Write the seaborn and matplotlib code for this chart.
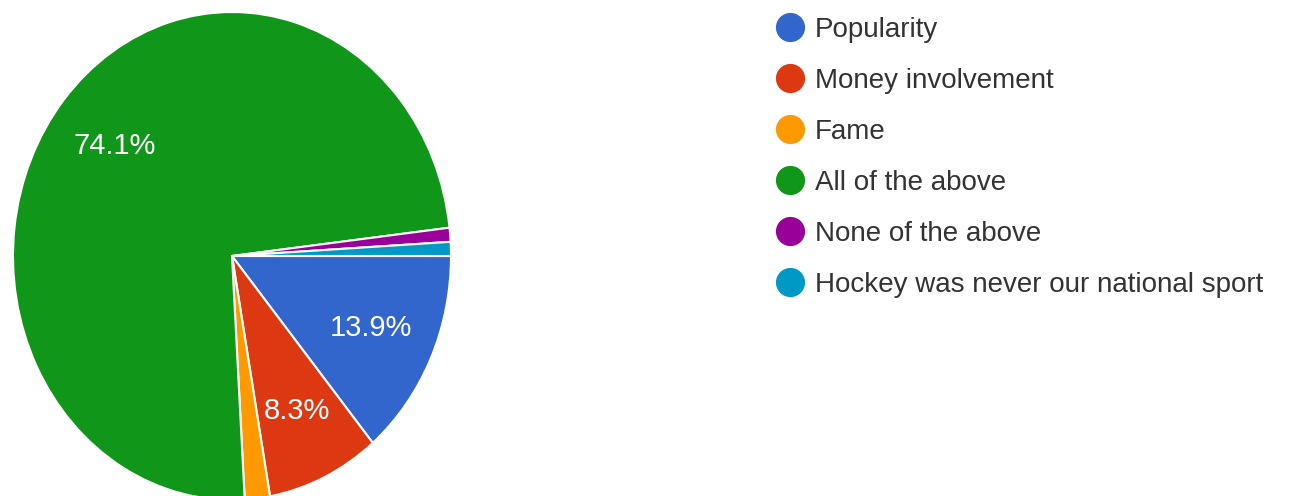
import matplotlib
matplotlib.use('Agg')
import matplotlib.pyplot as plt
from matplotlib.lines import Line2D
import seaborn as sns

# Survey answers (108 responses)
labels = ['Popularity', 'Money involvement', 'Fame', 'All of the above',
          'None of the above', 'Hockey was never our national sport']
counts = [15, 9, 2, 80, 1, 1]
colors = ['#3366CC', '#DC3912', '#FF9900', '#109618', '#990099', '#0099C6']

sns.set_theme(style='white')
plt.rcParams['font.family'] = ['Liberation Sans', 'DejaVu Sans']

W, H = 1315, 496
fig = plt.figure(figsize=(W / 100, H / 100), dpi=100)

# pie area in pixels (image is slightly stretched vertically)
left, right, top, bottom = 13, 451, 12, 500
ax = fig.add_axes([left / W, (H - bottom) / H, (right - left) / W, (bottom - top) / H])


def fmt(p):
    return f'{p:.1f}%' if p > 5 else ''


wedges, texts, autotexts = ax.pie(
    counts, colors=colors, startangle=0, counterclock=False,
    autopct=fmt, pctdistance=0.7,
    wedgeprops=dict(edgecolor='white', linewidth=1.5),
    textprops=dict(color='white', fontsize=21))
ax.set_aspect('auto')
ax.set_xlim(-1, 1)
ax.set_ylim(-1, 1)
ax.axis('off')

handles = [Line2D([], [], marker='o', linestyle='', markersize=20,
                  markerfacecolor=c, markeredgecolor=c) for c in colors]
fig.legend(handles, labels, loc='upper left', bbox_to_anchor=(776 / W, 1 - 17 / H),
           frameon=False, fontsize=20, labelspacing=0.9, handletextpad=0.4,
           handlelength=1.0, borderpad=0, borderaxespad=0, labelcolor='#333333')

fig.savefig('out.png', dpi=100)
